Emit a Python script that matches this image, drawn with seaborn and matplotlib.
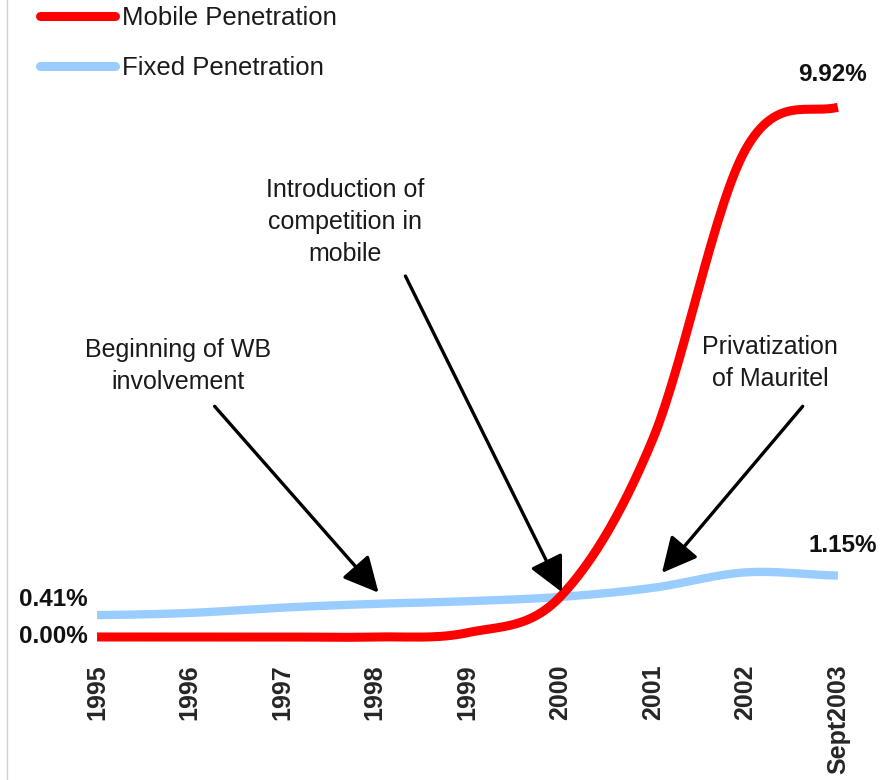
"""
plot.py
Mauritania: mobile vs fixed telephone penetration, 1995 - Sept 2003.
"""

import matplotlib
matplotlib.use("Agg")
import matplotlib.pyplot as plt
from matplotlib.lines import Line2D
import seaborn as sns
import pandas as pd
import numpy as np

# data (penetration, %)
YEARS = ["1995", "1996", "1997", "1998", "1999", "2000", "2001", "2002", "Sept2003"]
MOBILE = [0.00, 0.00, 0.00, 0.00, 0.08, 0.75, 3.70, 9.12, 9.92]
FIXED = [0.41, 0.45, 0.55, 0.62, 0.67, 0.75, 0.92, 1.21, 1.15]

COLORS = {"Mobile Penetration": "#FF0000", "Fixed Penetration": "#99CCFF"}


def smooth(values, steps=30):
    """Excel-style smoothed line (Catmull-Rom, end points doubled)."""
    p = np.asarray(values, dtype=float)
    pp = np.concatenate([[p[0]], p, [p[-1]]])
    xs, ys = [], []
    for i in range(len(p) - 1):
        p0, p1, p2, p3 = pp[i], pp[i + 1], pp[i + 2], pp[i + 3]
        m1 = (p2 - p0) / 2
        m2 = (p3 - p1) / 2
        t = np.linspace(0, 1, steps, endpoint=False)
        h = ((2 * t**3 - 3 * t**2 + 1) * p1 + (t**3 - 2 * t**2 + t) * m1
             + (-2 * t**3 + 3 * t**2) * p2 + (t**3 - t**2) * m2)
        xs.extend(i + t)
        ys.extend(h)
    xs.append(len(p) - 1)
    ys.append(p[-1])
    return np.array(xs), np.array(ys)


frames = []
for name, vals in [("Mobile Penetration", MOBILE), ("Fixed Penetration", FIXED)]:
    x, y = smooth(vals)
    frames.append(pd.DataFrame({"x": x, "value": y, "series": name}))
df = pd.concat(frames, ignore_index=True)

sns.set_theme(style="white")
plt.rcParams["font.family"] = ["Liberation Sans", "DejaVu Sans"]

fig = plt.figure(figsize=(8.81, 7.80), dpi=100)
ax = fig.add_axes([0.0681, 0.1594, 0.925, 0.8406])

sns.lineplot(data=df, x="x", y="value", hue="series", palette=COLORS,
             sort=False, estimator=None, ax=ax, legend=False)
for line, lw in zip(ax.lines, [6.5, 6.0]):
    line.set_linewidth(lw)
    line.set_solid_capstyle("butt")
ax.lines[0].set_zorder(3)

ax.set_xlim(-0.4, 8.4)
ax.set_ylim(-0.35, 11.93)
ax.set_xticks(range(len(YEARS)))
ax.set_xticklabels(YEARS, rotation=90, fontsize=18, fontweight="bold")
ax.tick_params(axis="x", length=0, pad=6)
ax.set_yticks([])
ax.set_xlabel("")
ax.set_ylabel("")
sns.despine(ax=ax, left=True, bottom=True)

# end-point labels
lab = dict(fontsize=17.5, fontweight="bold", color="#111111")
ax.text(-0.1, FIXED[0] + 0.3, f"{FIXED[0]:.2f}%", ha="right", va="center", **lab)
ax.text(-0.1, MOBILE[0], f"{MOBILE[0]:.2f}%", ha="right", va="center", **lab)
ax.text(7.94, MOBILE[-1] + 0.4, f"{MOBILE[-1]:.2f}%", ha="center", va="bottom", **lab)
ax.text(8.05, FIXED[-1] + 0.34, f"{FIXED[-1]:.2f}%", ha="center", va="bottom", **lab)

# event annotations
arrow = dict(arrowstyle="-|>,head_length=0.4,head_width=0.2", lw=2.4,
             color="black", mutation_scale=54, shrinkA=0, shrinkB=0)
note = dict(fontsize=18, ha="center", va="bottom", color="#1a1a1a",
            linespacing=1.42)
ax.annotate("", xy=(3.04, 0.83), xytext=(1.27, 4.32), arrowprops=arrow)
ax.text(0.875, 4.55, "Beginning of WB\ninvolvement", **note)
ax.annotate("", xy=(5.02, 0.84), xytext=(3.33, 6.76), arrowprops=arrow)
ax.text(2.68, 6.95, "Introduction of\ncompetition in\nmobile", **note)
ax.annotate("", xy=(6.10, 1.20), xytext=(7.62, 4.32), arrowprops=arrow)
ax.text(7.27, 4.6, "Privatization\nof Mauritel", **note)

# legend without frame, top-left
handles = [Line2D([0], [0], color=COLORS[k], lw=6.5) for k in COLORS]
fig.legend(handles, list(COLORS), loc="upper left", frameon=False,
           bbox_to_anchor=(40 / 881, 1 - 6 / 780), borderpad=0,
           borderaxespad=0, handlelength=2.9, handletextpad=0.3,
           labelspacing=1.02, fontsize=18.5, labelcolor="#1a1a1a")

# thin frame line at the left edge
fig.add_artist(Line2D([7 / 881, 7 / 881], [0, 1], transform=fig.transFigure,
                      color="#d0d0d0", lw=1))

fig.savefig("out.png", dpi=100)
